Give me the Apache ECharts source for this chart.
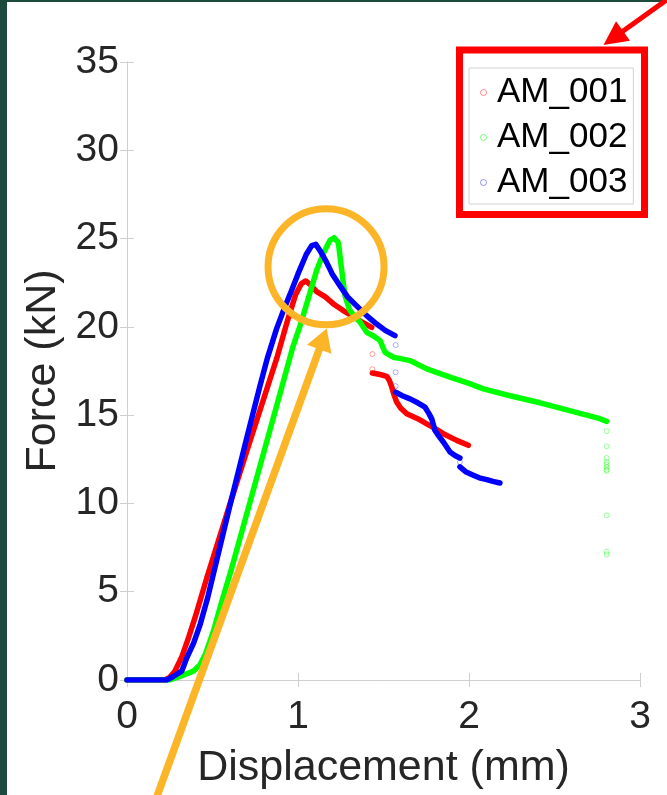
<!DOCTYPE html>
<html>
<head>
<meta charset="utf-8">
<script src="https://cdn.jsdelivr.net/npm/echarts@6/dist/echarts.min.js"></script>
<style>
  html, body { margin: 0; padding: 0; background: #ffffff; }
  #chart { width: 667px; height: 795px; }
</style>
</head>
<body>
<div id="chart"></div>
<script>
// ---- Data: force–displacement curves of three specimens ----
const sampleNames = ['AM_001', 'AM_002', 'AM_003'];
const xTickValues = [0, 1, 2, 3];
const yTickValues = [0, 5, 10, 15, 20, 25, 30, 35];

// AM_001: loading branch up to the first drop, then the post-drop branch
const am001Main = [
  [0, 0], [0.1, 0], [0.22, 0], [0.25, 0.15], [0.28, 0.5], [0.32, 1.3], [0.36, 2.4],
  [0.4, 3.6], [0.466, 5.76], [0.6, 9.9], [0.7, 12.95], [0.8, 15.95], [0.875, 18.2],
  [0.934, 20.2], [0.985, 21.8], [1.02, 22.45], [1.045, 22.6], [1.07, 22.4],
  [1.109, 22.0], [1.16, 21.7], [1.207, 21.3], [1.26, 20.95], [1.314, 20.63],
  [1.37, 20.3], [1.431, 19.97]
];
const am001Tail = [
  [1.435, 17.39], [1.48, 17.3], [1.519, 17.2], [1.535, 16.95], [1.548, 16.6],
  [1.56, 16.2], [1.577, 15.74], [1.6, 15.4], [1.636, 15.08], [1.7, 14.8],
  [1.753, 14.51], [1.8, 14.25], [1.85, 13.95], [1.928, 13.57], [1.996, 13.29]
];
const am001Loose = [[1.435, 18.46], [1.435, 17.6]];

// AM_002: single continuous branch, then scattered readings at the end of travel
const am002Main = [
  [0, 0], [0.1, 0], [0.25, 0], [0.31, 0.2], [0.388, 0.5], [0.427, 0.87], [0.46, 1.5],
  [0.505, 2.75], [0.55, 4.3], [0.612, 6.32], [0.7, 9.4], [0.8, 12.9], [0.9, 16.4],
  [0.971, 18.9], [1.012, 20.06], [1.06, 21.6], [1.109, 23.2], [1.15, 24.2],
  [1.187, 24.9], [1.211, 25.05], [1.236, 24.77], [1.255, 23.26], [1.275, 21.76],
  [1.3, 21.0], [1.314, 20.8], [1.36, 20.3], [1.402, 19.69], [1.44, 19.5],
  [1.48, 19.22], [1.509, 18.56], [1.557, 18.28], [1.6, 18.2], [1.655, 18.09],
  [1.753, 17.62], [1.889, 17.15], [2.0, 16.8], [2.084, 16.49], [2.24, 16.1],
  [2.415, 15.7], [2.55, 15.35], [2.649, 15.1], [2.75, 14.85], [2.805, 14.65]
];
const am002Loose = [
  [2.805, 14.1], [2.805, 13.23], [2.805, 12.57], [2.805, 12.34], [2.805, 12.2],
  [2.805, 12.07], [2.805, 11.91], [2.805, 11.85], [2.805, 9.33], [2.805, 7.27],
  [2.805, 7.11]
];

// AM_003: loading branch, two post-drop branches
const am003Main = [
  [0, 0], [0.1, 0], [0.232, 0], [0.27, 0.2], [0.32, 0.5], [0.349, 1.24], [0.39, 2.1],
  [0.427, 3.12], [0.47, 4.6], [0.505, 6.0], [0.6, 9.8], [0.7, 13.7], [0.778, 16.67],
  [0.82, 18.2], [0.875, 19.9], [0.92, 21.05], [0.96, 22.0], [1.0, 23.0],
  [1.048, 24.1], [1.08, 24.6], [1.104, 24.67], [1.13, 24.3], [1.168, 23.64],
  [1.2, 23.0], [1.246, 22.32], [1.29, 21.7], [1.343, 21.19], [1.4, 20.65],
  [1.46, 20.16], [1.51, 19.8], [1.567, 19.5]
];
const am003Mid = [
  [1.571, 16.3], [1.61, 16.1], [1.655, 15.92], [1.7, 15.7], [1.743, 15.45],
  [1.765, 15.1], [1.782, 14.79], [1.801, 14.13], [1.825, 13.8], [1.85, 13.48],
  [1.889, 12.91], [1.92, 12.7], [1.947, 12.57]
];
const am003Tail = [
  [1.947, 12.07], [1.98, 11.8], [2.025, 11.6], [2.06, 11.45], [2.104, 11.35],
  [2.14, 11.25], [2.181, 11.16]
];
const am003Loose = [[1.571, 18.97], [1.571, 17.43], [1.571, 16.64], [1.947, 12.34]];

// ---- Styling ----
const lineColors = ['#ff0000', '#00ff00', '#0000ff'];
const faintColors = ['rgba(255,0,0,0.45)', 'rgba(0,255,0,0.5)', 'rgba(0,0,255,0.4)'];
const FONT = '"Liberation Sans", Arial, Helvetica, sans-serif';
const TEXT_DARK = '#262626';
const FRAME = '#cfcfcf';

function curve(name, data, idx) {
  return {
    name, type: 'line', data, showSymbol: false, symbol: 'none', silent: true,
    lineStyle: { color: lineColors[idx], width: 5.5, cap: 'round', join: 'round' },
    itemStyle: { color: lineColors[idx] },
    animation: false
  };
}
function loose(name, data, idx) {
  return {
    name, type: 'scatter', data, symbol: 'circle', symbolSize: 5, silent: true,
    itemStyle: { color: 'rgba(255,255,255,0)', borderColor: faintColors[idx], borderWidth: 1 },
    animation: false
  };
}

const xMin = xTickValues[0], xMax = xTickValues[xTickValues.length - 1];
const yMin = yTickValues[0], yMax = yTickValues[yTickValues.length - 1];

const frameAxis = {
  axisLine: { show: true, lineStyle: { color: FRAME, width: 1 } },
  axisTick: { show: true, inside: true, length: 7, lineStyle: { color: FRAME } },
  splitLine: { show: false }
};

const option = {
  backgroundColor: '#ffffff',
  animation: false,
  grid: { left: 127, right: 27, top: 62, bottom: 113, containLabel: false },
  xAxis: [
    Object.assign({
      type: 'value', position: 'bottom', min: xMin, max: xMax,
      interval: xTickValues[1] - xTickValues[0],
      name: 'Displacement (mm)', nameLocation: 'middle', nameGap: 67,
      nameTextStyle: { fontFamily: FONT, fontSize: 43, color: TEXT_DARK },
      axisLabel: { fontFamily: FONT, fontSize: 39, color: TEXT_DARK, margin: 18 }
    }, frameAxis),
    Object.assign({
      type: 'value', position: 'top', min: xMin, max: xMax,
      interval: xTickValues[1] - xTickValues[0], axisLabel: { show: false }
    }, frameAxis)
  ],
  yAxis: [
    Object.assign({
      type: 'value', position: 'left', min: yMin, max: yMax,
      interval: yTickValues[1] - yTickValues[0],
      name: 'Force (kN)', nameLocation: 'middle', nameGap: 56, nameRotate: 90,
      nameTextStyle: { fontFamily: FONT, fontSize: 43, color: TEXT_DARK },
      axisLabel: { fontFamily: FONT, fontSize: 39, color: TEXT_DARK, margin: 8 }
    }, frameAxis),
    Object.assign({
      type: 'value', position: 'right', min: yMin, max: yMax,
      interval: yTickValues[1] - yTickValues[0], axisLabel: { show: false }
    }, frameAxis)
  ],
  legend: {
    orient: 'vertical', left: 469, top: 68,
    padding: [7, 6, 4, 11], itemGap: 10,
    itemWidth: 17, itemHeight: 6, icon: 'circle', symbolKeepAspect: true,
    backgroundColor: '#ffffff', borderColor: '#d2d2d2', borderWidth: 1,
    textStyle: { fontFamily: FONT, fontSize: 35, color: '#000000', lineHeight: 35 },
    selectedMode: false,
    data: sampleNames.map((n, i) => ({
      name: n,
      itemStyle: { color: 'rgba(255,255,255,0)', borderColor: faintColors[i], borderWidth: 1 }
    }))
  },
  series: [
    curve(sampleNames[0], am001Main, 0),
    curve(sampleNames[0], am001Tail, 0),
    loose(sampleNames[0], am001Loose, 0),
    curve(sampleNames[1], am002Main, 1),
    loose(sampleNames[1], am002Loose, 1),
    curve(sampleNames[2], am003Main, 2),
    curve(sampleNames[2], am003Mid, 2),
    curve(sampleNames[2], am003Tail, 2),
    loose(sampleNames[2], am003Loose, 2)
  ]
};

const chart = echarts.init(document.getElementById('chart'), null, { renderer: 'canvas' });
chart.setOption(option);

// ---- Highlight overlays: peak circle, arrows, legend frame, slide edge ----
const toPx = (x, y) => chart.convertToPixel({ gridIndex: 0 }, [x, y]);
const ORANGE = '#fdb528';
const RED = '#ff0000';

function arrow(tail, tip, headLen, headHalf, width, color) {
  const dx = tip[0] - tail[0], dy = tip[1] - tail[1];
  const len = Math.hypot(dx, dy);
  const ux = dx / len, uy = dy / len;
  const bx = tip[0] - ux * headLen, by = tip[1] - uy * headLen;
  const nx = -uy, ny = ux;
  return [
    { type: 'line', silent: true, z: 100,
      shape: { x1: tail[0], y1: tail[1], x2: bx + ux * 2, y2: by + uy * 2 },
      style: { stroke: color, lineWidth: width } },
    { type: 'polygon', silent: true, z: 100,
      shape: { points: [[tip[0], tip[1]], [bx + nx * headHalf, by + ny * headHalf], [bx - nx * headHalf, by - ny * headHalf]] },
      style: { fill: color } }
  ];
}

const peakCenter = toPx(1.164, 23.4);
const graphics = [
  { type: 'rect', silent: true, z: 100, shape: { x: 0, y: 0, width: 7, height: 795 }, style: { fill: '#1c4a3c' } },
  { type: 'rect', silent: true, z: 100, shape: { x: 0, y: 0, width: 667, height: 2 }, style: { fill: '#1c4a3c' } },
  { type: 'circle', silent: true, z: 100,
    shape: { cx: peakCenter[0], cy: peakCenter[1], r: 58 },
    style: { fill: 'none', stroke: ORANGE, lineWidth: 7 } },
  { type: 'rect', silent: true, z: 100,
    shape: { x: 459.5, y: 50, width: 185, height: 164.5 },
    style: { fill: 'none', stroke: RED, lineWidth: 7 } }
]
  .concat(arrow(toPx(0.175, -6.6), toPx(1.168, 19.9), 22, 13, 7.5, ORANGE))
  .concat(arrow([672, -4], [603.5, 45], 24, 12, 5, RED));

chart.setOption({ graphic: graphics });
</script>
</body>
</html>
